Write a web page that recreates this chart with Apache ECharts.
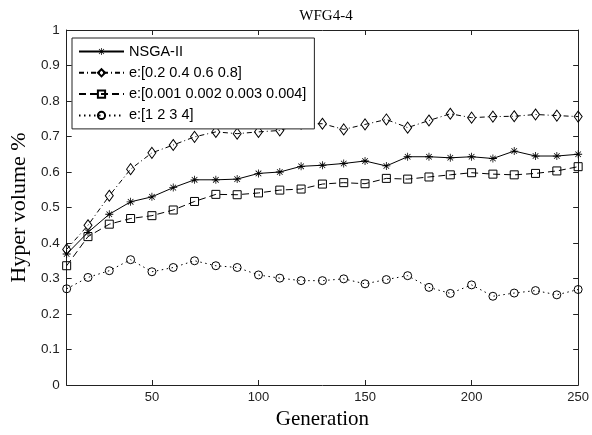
<!DOCTYPE html>
<html>
<head>
<meta charset="utf-8">
<script src="https://cdn.jsdelivr.net/npm/echarts@6/dist/echarts.min.js"></script>
<style>html,body{margin:0;padding:0;background:#fff}#c{width:592px;height:435px}</style>
</head>
<body>
<div id="c"></div>
<script>
const generations = [10,20,30,40,50,60,70,80,90,100,110,120,130,140,150,160,170,180,190,200,210,220,230,240,250];
const nsga2 = [0.369,0.430,0.481,0.516,0.530,0.556,0.578,0.578,0.580,0.596,0.600,0.616,0.619,0.624,0.631,0.617,0.643,0.643,0.640,0.643,0.638,0.659,0.645,0.645,0.650];
const eDiamond = [0.382,0.450,0.533,0.608,0.654,0.676,0.699,0.713,0.708,0.713,0.717,0.736,0.736,0.720,0.734,0.748,0.725,0.745,0.764,0.753,0.756,0.757,0.762,0.759,0.756];
const eSquare = [0.336,0.418,0.453,0.469,0.477,0.493,0.517,0.537,0.536,0.541,0.549,0.552,0.566,0.570,0.567,0.582,0.580,0.586,0.592,0.598,0.594,0.592,0.596,0.603,0.615];
const eCircle = [0.271,0.303,0.322,0.353,0.319,0.331,0.350,0.336,0.331,0.310,0.301,0.294,0.294,0.299,0.285,0.297,0.308,0.275,0.258,0.282,0.250,0.259,0.266,0.254,0.269];
const seriesNames = ['NSGA-II','e:[0.2 0.4 0.6 0.8]','e:[0.001 0.002 0.003 0.004]','e:[1 2 3 4]'];
const xTickValues = [50,100,150,200,250];
const yTickValues = [0,0.1,0.2,0.3,0.4,0.5,0.6,0.7,0.8,0.9,1];
const titleText = 'WFG4-4';
const xName = 'Generation';
const yName = 'Hyper volume %';

const starPath = 'path://M-0.6,-6L0.6,-6L0.6,6L-0.6,6Z M-6,-0.6L6,-0.6L6,0.6L-6,0.6Z M-4.6,-3.8L-3.8,-4.6L4.6,3.8L3.8,4.6Z M3.8,-4.6L4.6,-3.8L-3.8,4.6L-4.6,3.8Z';
const pair = arr => generations.map((g,i)=>[g,arr[i]]);
const axisCol = '#222';
const serif = '"Liberation Serif","Times New Roman",serif';
const sans = '"Liberation Sans",Arial,sans-serif';

function mkSeries(name, arr, symbol, size, dash, filled){
  return {
    name, type:'line', data: pair(arr), symbol, symbolSize: size,
    showSymbol:true, animation:false,
    lineStyle:{color:'#000', width:1, type:dash},
    itemStyle: filled ? {color:'#000', borderWidth:0} : {color:'rgba(0,0,0,0)', borderColor:'#000', borderWidth:1},
    emphasis:{disabled:true}
  };
}

const chart = echarts.init(document.getElementById('c'), null, {renderer:'canvas'});
chart.setOption({
  backgroundColor:'#fff',
  animation:false,
  title:{text:titleText, left:321, textAlign:'center', top:4, textStyle:{fontFamily:serif, fontSize:15, fontWeight:'normal', color:'#000'}},
  grid:{left:63, right:11, top:30, bottom:47},
  legend:{
    orient:'vertical', left:72, top:38, padding:[6,8,6,6],
    borderColor:'#222', borderWidth:1, backgroundColor:'#fff',
    itemWidth:45, itemHeight:9, itemGap:6.3,
    textStyle:{fontFamily:sans, fontSize:14.5, lineHeight:14, color:'#000'},
    data: seriesNames
  },
  xAxis:[{
    type:'value', min:10, max:250, name:xName, nameLocation:'middle', nameGap:24,
    nameTextStyle:{fontFamily:serif, fontSize:21, color:'#000'},
    axisLine:{onZero:false, lineStyle:{color:axisCol, width:1}},
    axisTick:{inside:true, length:5, customValues:xTickValues, lineStyle:{color:axisCol}},
    axisLabel:{customValues:xTickValues, margin:6, fontFamily:sans, fontSize:13, color:'#222'},
    splitLine:{show:false}
  },{
    type:'value', min:10, max:250, position:'top',
    axisLine:{onZero:false, lineStyle:{color:axisCol, width:1}},
    axisTick:{inside:true, length:5, customValues:xTickValues, lineStyle:{color:axisCol}},
    axisLabel:{show:false}, splitLine:{show:false}
  }],
  yAxis:[{
    type:'value', min:0, max:1, interval:0.1, name:yName, nameLocation:'middle', nameGap:36,
    nameTextStyle:{fontFamily:serif, fontSize:22, color:'#000'},
    axisLine:{show:true, onZero:false, lineStyle:{color:axisCol, width:1}},
    axisTick:{show:true, inside:true, length:5, lineStyle:{color:axisCol}},
    axisLabel:{margin:7, fontFamily:sans, fontSize:13.5, color:'#222', formatter:v=>{const t=yTickValues.find(x=>Math.abs(x-v)<1e-9); return t===undefined?'':String(t);}},
    splitLine:{show:false}
  },{
    type:'value', min:0, max:1, interval:0.1, position:'right',
    axisLine:{show:true, onZero:false, lineStyle:{color:axisCol, width:1}},
    axisTick:{show:true, inside:true, length:5, lineStyle:{color:axisCol}},
    axisLabel:{show:false}, splitLine:{show:false}
  }],
  series:[
    mkSeries(seriesNames[0], nsga2, starPath, 8, 'solid', true),
    mkSeries(seriesNames[1], eDiamond, 'diamond', [8,11], [5,3,1,3], false),
    mkSeries(seriesNames[2], eSquare, 'rect', 8, [7,4], false),
    mkSeries(seriesNames[3], eCircle, 'circle', 8, [1.5,3.5], false)
  ]
});
</script>
</body>
</html>
